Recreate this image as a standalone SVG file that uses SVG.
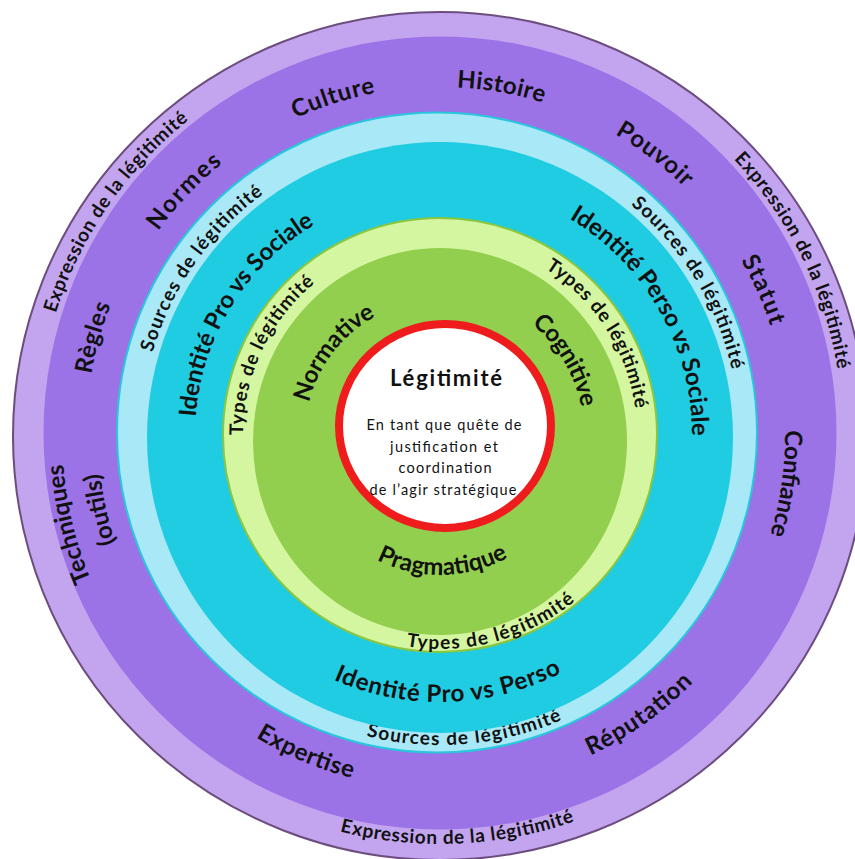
<svg xmlns="http://www.w3.org/2000/svg" xmlns:xlink="http://www.w3.org/1999/xlink" width="855" height="859" viewBox="0 0 855 859">
<style>
.lbl{font-family:Lato,"Open Sans","Liberation Sans",sans-serif;font-weight:bold;fill:#111;text-anchor:middle}
.big{font-size:24px}
.sm{font-size:19px}
.ctr{font-family:Lato,"Open Sans","Liberation Sans",sans-serif;fill:#111;text-anchor:middle}
</style>
<defs>
<path id="cw403" d="M37 435 A403 403 0 0 1 843 435"/>
<path id="ccw409" d="M31 435 A409 409 0 0 0 849 435"/>
<path id="cw348" d="M92 435 A348 348 0 0 1 788 435"/>
<path id="cw345" d="M95 435 A345 345 0 0 1 785 435"/>
<path id="cw354" d="M86 435 A354 354 0 0 1 794 435"/>
<path id="cw378" d="M62 435 A378 378 0 0 1 818 435"/>
<path id="cw342" d="M98 435 A342 342 0 0 1 782 435"/>
<path id="ccw354" d="M86 435 A354 354 0 0 0 794 435"/>
<path id="cw299" d="M141 435 A299 299 0 0 1 739 435"/>
<path id="ccw310" d="M130 435 A310 310 0 0 0 750 435"/>
<path id="cw245" d="M195 435 A245 245 0 0 1 685 435"/>
<path id="cw252" d="M188 435 A252 252 0 0 1 692 435"/>
<path id="ccw267" d="M173 435 A267 267 0 0 0 707 435"/>
<path id="cw197" d="M243 435 A197 197 0 0 1 637 435"/>
<path id="ccw214" d="M226 435 A214 214 0 0 0 654 435"/>
<path id="cw135" d="M305 435 A135 135 0 0 1 575 435"/>
<path id="cw144" d="M296 435 A144 144 0 0 1 584 435"/>
<path id="ccw140" d="M300 435 A140 140 0 0 0 580 435"/>
</defs>

<g id="ring-expression">
<ellipse cx="440" cy="436" rx="427" ry="424" fill="#c2a4ef" stroke="#6d4d7e" stroke-width="2"/>
<g transform="rotate(-55.5 440 435)"><text class="lbl sm"><textPath xlink:href="#cw403" href="#cw403" startOffset="50%" textLength="238">Expression de la légitimité</textPath></text></g>
<g transform="rotate(63.7 440 435)"><text class="lbl sm"><textPath xlink:href="#cw403" href="#cw403" startOffset="50%" textLength="238">Expression de la légitimité</textPath></text></g>
<g transform="rotate(-2.5 440 435)"><text class="lbl sm"><textPath xlink:href="#ccw409" href="#ccw409" startOffset="50%" textLength="238">Expression de la légitimité</textPath></text></g>
</g>

<g id="ring-purple">
<circle cx="440" cy="433" r="396.5" fill="#9c72e7"/>
<g transform="rotate(-17.6 440 435)"><text class="lbl big"><textPath xlink:href="#cw348" href="#cw348" startOffset="50%" textLength="84">Culture</textPath></text></g>
<g transform="rotate(10 440 435)"><text class="lbl big"><textPath xlink:href="#cw348" href="#cw348" startOffset="50%" textLength="88">Histoire</textPath></text></g>
<g transform="rotate(37.4 440 435)"><text class="lbl big"><textPath xlink:href="#cw348" href="#cw348" startOffset="50%" textLength="88">Pouvoir</textPath></text></g>
<g transform="rotate(65.8 440 435)"><text class="lbl big"><textPath xlink:href="#cw348" href="#cw348" startOffset="50%" textLength="72">Statut</textPath></text></g>
<g transform="rotate(98 440 435)"><text class="lbl big"><textPath xlink:href="#cw345" href="#cw345" startOffset="50%" textLength="106">Confiance</textPath></text></g>
<g transform="rotate(-35.4 440 435)"><text class="lbl big"><textPath xlink:href="#ccw354" href="#ccw354" startOffset="50%" textLength="127">Réputation</textPath></text></g>
<g transform="rotate(22.9 440 435)"><text class="lbl big"><textPath xlink:href="#ccw354" href="#ccw354" startOffset="50%" textLength="105">Expertise</textPath></text></g>
<g transform="rotate(-103.5 440 435)"><text class="lbl big"><textPath xlink:href="#cw378" href="#cw378" startOffset="50%" textLength="120">Techniques</textPath></text></g>
<g transform="rotate(-102.4 440 435)"><text class="lbl big"><textPath xlink:href="#cw342" href="#cw342" startOffset="50%" textLength="71">(outils)</textPath></text></g>
<g transform="rotate(-74.3 440 435)"><text class="lbl big"><textPath xlink:href="#cw354" href="#cw354" startOffset="50%" textLength="72">Règles</textPath></text></g>
<g transform="rotate(-46.4 440 435)"><text class="lbl big"><textPath xlink:href="#cw348" href="#cw348" startOffset="50%" textLength="94">Normes</textPath></text></g>
</g>

<g id="ring-sources">
<circle cx="437" cy="432.5" r="320" fill="#a9e8f6" stroke="#28c7dc" stroke-width="2"/>
<g transform="rotate(-55.1 440 435)"><text class="lbl sm"><textPath xlink:href="#cw299" href="#cw299" startOffset="50%" textLength="197">Sources de légitimité</textPath></text></g>
<g transform="rotate(58.5 440 435)"><text class="lbl sm"><textPath xlink:href="#cw299" href="#cw299" startOffset="50%" textLength="197">Sources de légitimité</textPath></text></g>
<g transform="rotate(-4.7 440 435)"><text class="lbl sm"><textPath xlink:href="#ccw310" href="#ccw310" startOffset="50%" textLength="200">Sources de légitimité</textPath></text></g>
</g>

<g id="ring-identite">
<ellipse cx="440" cy="437.5" rx="293" ry="295.5" fill="#20cce1"/>
<g transform="rotate(-58.3 440 435)"><text class="lbl big"><textPath xlink:href="#cw245" href="#cw245" startOffset="50%" textLength="235">Identité Pro vs Sociale</textPath></text></g>
<g transform="rotate(60.5 440 435)"><text class="lbl big"><textPath xlink:href="#cw252" href="#cw252" startOffset="50%" textLength="261">Identité Perso vs Sociale</textPath></text></g>
<g transform="rotate(-1.8 440 435)"><text class="lbl big"><textPath xlink:href="#ccw267" href="#ccw267" startOffset="50%" textLength="236">Identité Pro vs Perso</textPath></text></g>
</g>

<g id="ring-types">
<circle cx="440" cy="435" r="217" fill="#d5f6a0" stroke="#8cc63f" stroke-width="2"/>
<g transform="rotate(-64.8 440 435)"><text class="lbl sm"><textPath xlink:href="#cw197" href="#cw197" startOffset="50%" textLength="174">Types de légitimité</textPath></text></g>
<g transform="rotate(57.3 440 435)"><text class="lbl sm"><textPath xlink:href="#cw197" href="#cw197" startOffset="50%" textLength="172">Types de légitimité</textPath></text></g>
<g transform="rotate(-15 440 435)"><text class="lbl sm"><textPath xlink:href="#ccw214" href="#ccw214" startOffset="50%" textLength="180">Types de légitimité</textPath></text></g>
</g>

<g id="ring-categories">
<ellipse cx="440" cy="441.5" rx="187" ry="193.5" fill="#93cf4f"/>
<g transform="rotate(-52.3 440 435)"><text class="lbl big"><textPath xlink:href="#cw135" href="#cw135" startOffset="50%" textLength="112">Normative</textPath></text></g>
<g transform="rotate(59.2 440 435)"><text class="lbl big"><textPath xlink:href="#cw144" href="#cw144" startOffset="50%" textLength="99">Cognitive</textPath></text></g>
<g transform="rotate(-1.1 440 435)"><text class="lbl big"><textPath xlink:href="#ccw140" href="#ccw140" startOffset="50%" textLength="137">Pragmatique</textPath></text></g>
</g>

<g id="center">
<ellipse cx="445" cy="426" rx="106" ry="102" fill="#ffffff" stroke="#ee1c1c" stroke-width="8"/>
<text class="ctr" x="446" y="386" font-size="22" font-weight="bold" textLength="112">Légitimité</text>
<text class="ctr" x="444" y="430" font-size="14.5" textLength="155">En tant que quête de</text>
<text class="ctr" x="444" y="452" font-size="14.5" textLength="108">justification et</text>
<text class="ctr" x="445" y="473" font-size="14.5" textLength="93">coordination</text>
<text class="ctr" x="443" y="495" font-size="14.5" textLength="147">de l’agir stratégique</text>
</g>
</svg>
